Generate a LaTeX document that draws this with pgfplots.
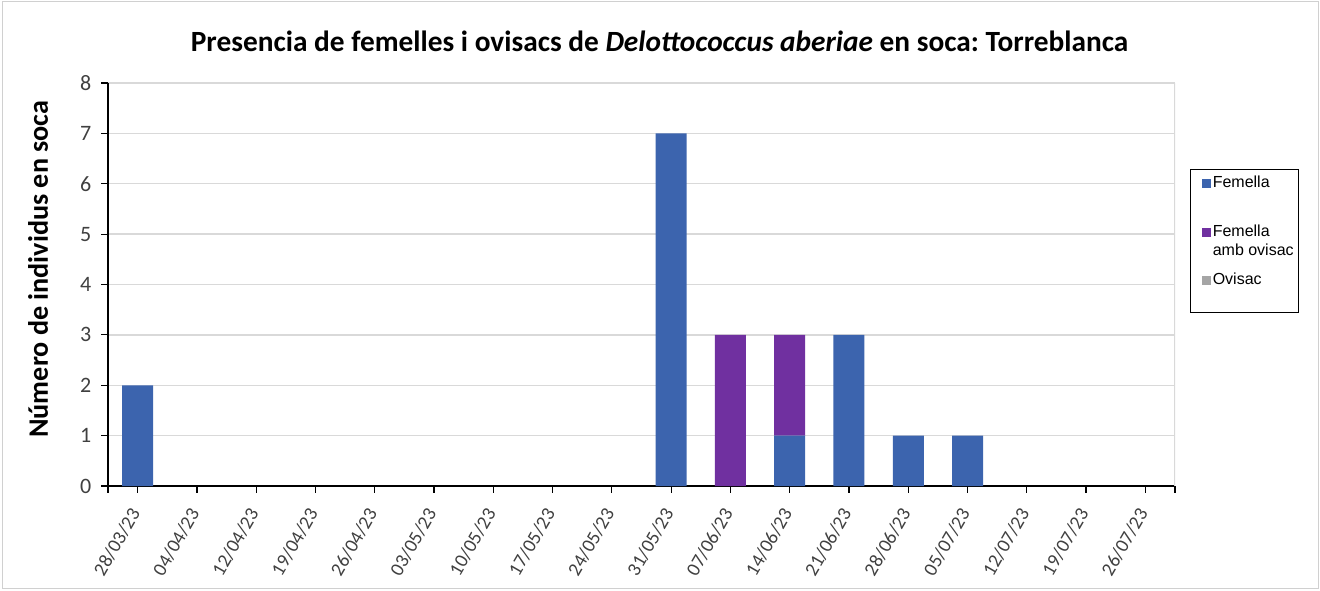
\documentclass[border=0pt]{standalone}
\usepackage{fontspec}
\setmainfont{Carlito}
\newfontfamily\arialf{Liberation Sans}
\usepackage{pgfplots}
\pgfplotsset{compat=1.18}
\definecolor{fem}{HTML}{3C64AE}
\definecolor{femov}{HTML}{7030A0}
\definecolor{ovis}{HTML}{A5A5A5}
\definecolor{gridc}{HTML}{D9D9D9}
\definecolor{tickc}{HTML}{404040}
\definecolor{framec}{HTML}{D0D0D0}
\frenchspacing
\begin{document}
\begin{tikzpicture}
\useasboundingbox (0,0) rectangle (990pt,442.5pt);
\draw[framec, line width=0.75pt] (1.5pt,1.5pt) rectangle (988.5pt,441pt);
\begin{axis}[
  at={(81pt,78pt)}, anchor=south west,
  scale only axis, width=800.25pt, height=302.25pt,
  ybar stacked, bar width=23.25pt,
  xmin=-0.5, xmax=17.5, ymin=0, ymax=8,
  ytick={0,1,...,8},
  yticklabel={\mbox{\pgfmathprintnumber[assume math mode=true]{\tick}}},
  xtick={0,1,...,17},
  xticklabels={\mbox{28/03/23},\mbox{04/04/23},\mbox{12/04/23},\mbox{19/04/23},\mbox{26/04/23},\mbox{03/05/23},\mbox{10/05/23},\mbox{17/05/23},\mbox{24/05/23},\mbox{31/05/23},\mbox{07/06/23},\mbox{14/06/23},\mbox{21/06/23},\mbox{28/06/23},\mbox{05/07/23},\mbox{12/07/23},\mbox{19/07/23},\mbox{26/07/23}},
  extra x ticks={-0.5,17.5}, extra x tick labels={},
  extra x tick style={grid=none},
  axis x line*=bottom, axis y line*=left,
  axis line style={line width=2pt, -},
  ymajorgrids, grid style={gridc, line width=1.1pt},
  tick style={black, line width=0.9pt},
  major tick length=5pt, tick align=outside,
  x tick label style={yshift=-10pt, xshift=0pt, rotate=60, anchor=east, font=\fontsize{14.5}{17}\selectfont, text=tickc},
  y tick label style={font=\fontsize{16.5}{19}\selectfont, text=tickc, xshift=-4pt},
  title={Presencia de femelles i ovisacs de \textit{Delottococcus aberiae} en soca: Torreblanca},
  title style={at={(rel axis cs:0.517,1.084)}, anchor=center, font=\bfseries\fontsize{22}{26}\selectfont},
  ylabel={Número de individus en soca},
  ylabel style={at={(rel axis cs:-0.0656,0.538)}, anchor=center, font=\bfseries\fontsize{21.1}{24}\selectfont},
  legend style={at={(rel axis cs:1.0144,0.787)}, anchor=north west, draw=black, line width=0.6pt,
    inner xsep=3.75pt, inner ysep=5pt, column sep=1.5pt, row sep=0pt,
    font=\arialf\fontsize{12}{14}\selectfont,
    nodes={inner sep=0pt, text depth={}, text height={}, anchor=base west}},
  legend image code/.code={\path (0pt,0pt) (11.25pt,0pt); \fill[#1, draw=none] (4.5pt,0pt) rectangle (11.25pt,6.75pt);},
]
\addplot+[fill=fem, draw=none] coordinates {(0,2) (1,0) (2,0) (3,0) (4,0) (5,0) (6,0) (7,0) (8,0) (9,7) (10,0) (11,1) (12,3) (13,1) (14,1) (15,0) (16,0) (17,0)};
\addlegendentry{\rule[-26.75pt]{0pt}{11.5pt}Femella}
\addplot+[fill=femov, draw=none] coordinates {(0,0) (1,0) (2,0) (3,0) (4,0) (5,0) (6,0) (7,0) (8,0) (9,0) (10,3) (11,2) (12,0) (13,0) (14,0) (15,0) (16,0) (17,0)};
\addlegendentry{\vtop{\baselineskip=14.25pt\hbox{\rule{0pt}{10pt}Femella}\hbox{\rule[-13.25pt]{0pt}{0pt}amb ovisac}}}
\addplot+[fill=ovis, draw=none] coordinates {(0,0) (1,0) (2,0) (3,0) (4,0) (5,0) (6,0) (7,0) (8,0) (9,0) (10,0) (11,0) (12,0) (13,0) (14,0) (15,0) (16,0) (17,0)};
\addlegendentry{\rule[-16pt]{0pt}{10pt}Ovisac}
\draw[gridc, line width=1.1pt] (rel axis cs:1,0) -- (rel axis cs:1,1);
\end{axis}
\end{tikzpicture}
\end{document}
